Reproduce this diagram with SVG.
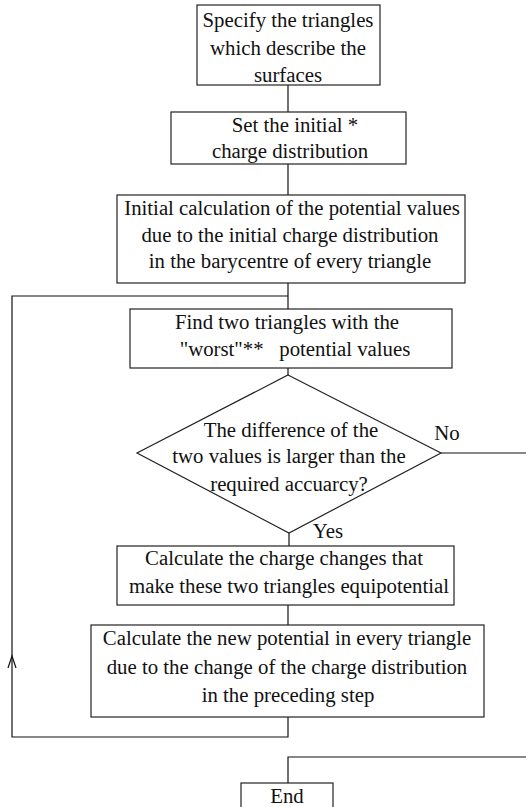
<svg xmlns="http://www.w3.org/2000/svg" width="526" height="807" viewBox="0 0 526 807">
<style>
.box{fill:#fff;stroke:#222;stroke-width:1.2}
.ln{fill:none;stroke:#111;stroke-width:1.2}
text{font-family:"Liberation Serif","Times New Roman",serif;font-size:20.8px;fill:#111;text-anchor:middle}
</style>
<rect width="526" height="807" fill="#fff"/>
<g id="connectors">
<path class="ln" d="M288,85 V112"/>
<path class="ln" d="M288,164 V195"/>
<path class="ln" d="M288,283 V309"/>
<path class="ln" d="M288,368 V375"/>
<path class="ln" d="M289,533 V546"/>
<path class="ln" d="M288,605 V625"/>
<path class="ln" d="M288,717 V737 H12 V296 H288"/>
<path class="ln" d="M8,668 L12,656 L16,668"/>
<path class="ln" d="M441,453 H526"/>
<path class="ln" d="M526,757 H288 V783"/>
<text x="447" y="440">No</text>
<text x="328" y="538">Yes</text>
</g>
<g id="n1">
<rect class="box" x="197" y="5" width="183" height="80"/>
<text x="288" y="27">Specify the triangles</text>
<text x="288" y="55">which describe the</text>
<text x="288" y="82">surfaces</text>
</g>
<g id="n2">
<rect class="box" x="171" y="112" width="235" height="52"/>
<text x="295" y="132">Set the initial *</text>
<text x="290" y="158">charge distribution</text>
</g>
<g id="n3">
<rect class="box" x="117" y="195" width="348" height="88"/>
<text x="292" y="215">Initial calculation of the potential values</text>
<text x="290" y="242">due to the initial charge distribution</text>
<text x="290" y="268">in the barycentre of every triangle</text>
</g>
<g id="n4">
<rect class="box" x="130" y="309" width="322" height="59"/>
<text x="287" y="329">Find two triangles with the</text>
<text x="295" y="356">"worst"**&#160;&#160; potential values</text>
</g>
<g id="n5">
<polygon class="box" points="288,375 441,453 289,533 137,453"/>
<text x="291" y="437">The difference of the</text>
<text x="289" y="463">two values is larger than the</text>
<text x="289" y="491">required accuarcy?</text>
</g>
<g id="n6">
<rect class="box" x="117" y="546" width="337" height="59"/>
<text x="284" y="565">Calculate the charge changes that</text>
<text x="289" y="593">make these two triangles equipotential</text>
</g>
<g id="n7">
<rect class="box" x="91" y="625" width="393" height="92"/>
<text x="287" y="645">Calculate the new potential in every triangle</text>
<text x="287" y="674">due to the change of the charge distribution</text>
<text x="288" y="702">in the preceding step</text>
</g>
<g id="n8">
<rect class="box" x="241" y="783" width="92" height="40"/>
<text x="287" y="803">End</text>
</g>
</svg>
